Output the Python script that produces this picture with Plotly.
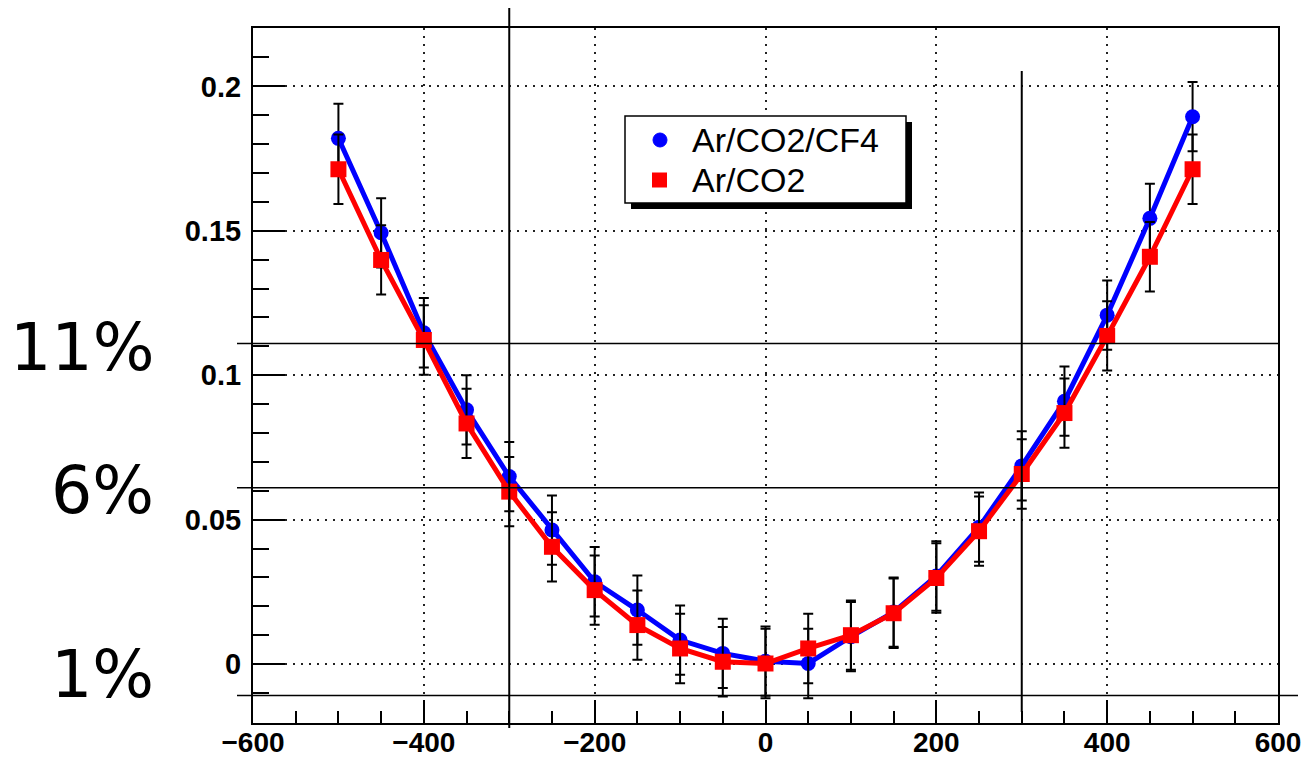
import plotly.graph_objects as go

# ---------------- data ----------------
x_pos = [-500, -450, -400, -350, -300, -250, -200, -150, -100, -50, 0,
         50, 100, 150, 200, 250, 300, 350, 400, 450, 500]
res_cf4 = [0.182, 0.1493, 0.1147, 0.088, 0.0649, 0.0464, 0.0285, 0.0187, 0.0083, 0.0037, 0.001,
           0.0002, 0.0095, 0.018, 0.0305, 0.0474, 0.0686, 0.091, 0.1208, 0.1543, 0.1895]
res_co2 = [0.1713, 0.1399, 0.1122, 0.0833, 0.0597, 0.0406, 0.0256, 0.0135, 0.0054, 0.0008, 0.0002,
           0.0054, 0.010, 0.0176, 0.0298, 0.046, 0.0658, 0.0869, 0.1136, 0.141, 0.1713]
err_cf4 = [0.012, 0.012, 0.012, 0.012, 0.012, 0.012, 0.012, 0.012, 0.012, 0.012, 0.012,
           0.012, 0.012, 0.012, 0.012, 0.012, 0.012, 0.012, 0.012, 0.012, 0.012]
err_co2 = [0.012, 0.012, 0.012, 0.012, 0.012, 0.012, 0.012, 0.012, 0.012, 0.012, 0.012,
           0.012, 0.012, 0.012, 0.012, 0.012, 0.012, 0.012, 0.012, 0.012, 0.012]
series_names = ["Ar/CO2/CF4", "Ar/CO2"]
series_colors = ["#0000ff", "#ff0000"]
x_ticks = [-600, -400, -200, 0, 200, 400, 600]
y_ticks = [0, 0.05, 0.1, 0.15, 0.2]
y_tick_text = ["0", "0.05", "0.1", "0.15", "0.2"]
y_minor = [-0.01, 0.01, 0.02, 0.03, 0.04, 0.06, 0.07, 0.08, 0.09, 0.11, 0.12, 0.13,
           0.14, 0.16, 0.17, 0.18, 0.19, 0.21]
guide_x = [-300, 300]
guide_y = [0.111, 0.061, -0.0109]
guide_labels = ["11%", "6%", "1%"]

X_RANGE = [-600, 600]
Y_RANGE = [-0.0204, 0.2202]

# page layout (the page body adds an 8px offset)
OFF = 8
W, H = 1309 - OFF, 757 - OFF
PL, PR, PT, PB = 253, 1278, 28, 723          # plot frame in page pixels
ML, MT = PL - OFF, PT - OFF
MR, MB = W - (PR - OFF), H - (PB - OFF)
PW, PH = PR - PL, PB - PT


def px_x(px):
    return (px - PL) / PW


def px_y(py):
    return (PB - py) / PH


def dx(v):
    return (v - X_RANGE[0]) / (X_RANGE[1] - X_RANGE[0])


def dy(v):
    return (v - Y_RANGE[0]) / (Y_RANGE[1] - Y_RANGE[0])


fig = go.Figure()

styles = [
    dict(symbol="circle", size=15),
    dict(symbol="square", size=16),
]
values = [res_cf4, res_co2]
errors = [err_cf4, err_co2]

for name, yv, ev, col, st in zip(series_names, values, errors, series_colors, styles):
    fig.add_trace(go.Scatter(
        x=x_pos, y=yv, mode="lines", line=dict(color=col, width=5),
        showlegend=False, hoverinfo="skip"))
    fig.add_trace(go.Scatter(
        x=x_pos, y=yv, mode="markers", name=name, showlegend=False,
        marker=dict(color=col, symbol=st["symbol"], size=st["size"]),
        error_y=dict(type="data", array=ev, visible=True, color="black",
                     thickness=2, width=5)))

shapes = []
annotations = []

# horizontal guide lines
h_ends = [1278, 1278, 1298]
for gy, xe in zip(guide_y, h_ends):
    shapes.append(dict(type="line", xref="paper", yref="paper",
                       x0=px_x(237), x1=px_x(xe), y0=dy(gy), y1=dy(gy),
                       line=dict(color="black", width=1.5), layer="above"))
# vertical guide lines
v_spans = [(728, 0), (712, 71)]
for gx, (yb, yt) in zip(guide_x, v_spans):
    shapes.append(dict(type="line", xref="paper", yref="paper",
                       x0=dx(gx), x1=dx(gx), y0=px_y(yb), y1=px_y(yt),
                       line=dict(color="black", width=2), layer="above"))

# percentage labels
label_y = [347, 490, 674]
for lab, ly in zip(guide_labels, label_y):
    annotations.append(dict(
        text=lab, xref="paper", yref="paper", x=px_x(156), y=px_y(ly),
        xanchor="right", yanchor="middle", showarrow=False,
        font=dict(family="DejaVu Sans", size=65, color="black")))

# legend box (ROOT style with shadow)
LX0, LX1, LY0, LY1 = 625, 906, 116, 203
shapes.append(dict(type="rect", xref="paper", yref="paper",
                   x0=px_x(LX0 + 6), x1=px_x(LX1 + 6), y0=px_y(LY1 + 6), y1=px_y(LY0 + 6),
                   fillcolor="black", line=dict(width=0), layer="above"))
shapes.append(dict(type="rect", xref="paper", yref="paper",
                   x0=px_x(LX0), x1=px_x(LX1), y0=px_y(LY1), y1=px_y(LY0),
                   fillcolor="white", line=dict(color="black", width=1.5), layer="above"))
entry_y = [140, 180]
# blue circle
shapes.append(dict(type="circle", xref="paper", yref="paper",
                   x0=px_x(653), x1=px_x(667), y0=px_y(entry_y[0] + 7), y1=px_y(entry_y[0] - 7),
                   fillcolor=series_colors[0], line=dict(color=series_colors[0], width=1),
                   layer="above"))
# red square
shapes.append(dict(type="rect", xref="paper", yref="paper",
                   x0=px_x(652), x1=px_x(667), y0=px_y(entry_y[1] + 7.5), y1=px_y(entry_y[1] - 7.5),
                   fillcolor=series_colors[1], line=dict(width=0), layer="above"))
for name, ey in zip(series_names, entry_y):
    annotations.append(dict(
        text=name, xref="paper", yref="paper", x=px_x(690), y=px_y(ey),
        xanchor="left", yanchor="middle", showarrow=False,
        font=dict(family="Liberation Sans", size=34, color="black")))

x_font = dict(family="Liberation Sans", size=28, color="black", weight="bold")
y_font = dict(family="Liberation Sans", size=29, color="black", weight="bold")
grid_style = dict(showgrid=True, gridcolor="#222222", gridwidth=1.5, griddash="1.5px,6.5px")

fig.update_layout(
    width=W, height=H,
    margin=dict(l=ML, r=MR, t=MT, b=MB, autoexpand=False),
    paper_bgcolor="white", plot_bgcolor="white",
    shapes=shapes, annotations=annotations, showlegend=False,
    xaxis=dict(range=X_RANGE, tickvals=x_ticks, ticks="inside", ticklen=23,
               tickwidth=1.5, tickcolor="black",
               minor=dict(dtick=50, tick0=0, ticks="inside", ticklen=12,
                          tickwidth=1.5, tickcolor="black", showgrid=False),
               zeroline=False, showline=True, linecolor="black", linewidth=2,
               mirror=True, tickfont=x_font, ticklabelstandoff=-7, automargin=False,
               **grid_style),
    yaxis=dict(range=Y_RANGE, tickvals=y_ticks, ticktext=y_tick_text,
               ticks="inside", ticklen=32, tickwidth=1.5, tickcolor="black",
               minor=dict(tickvals=y_minor, ticks="inside", ticklen=16,
                          tickwidth=1.5, tickcolor="black", showgrid=False),
               zeroline=False, showline=True, linecolor="black", linewidth=2,
               mirror=True, tickfont=y_font, ticklabelstandoff=4, automargin=False,
               **grid_style),
)

fig.write_html("out.html")
